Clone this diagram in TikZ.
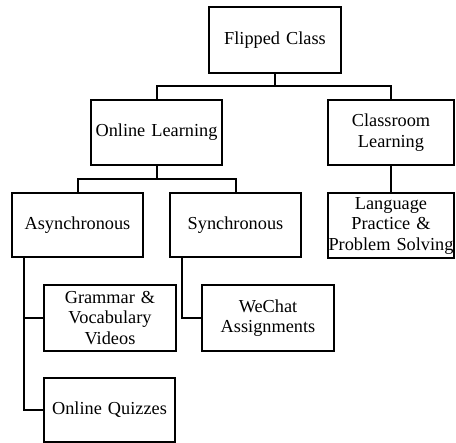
\documentclass[tikz,border=0pt]{standalone}
\usepackage{fontspec}
\setmainfont{Liberation Serif}
\newcommand{\boxfont}{\fontsize{18.3}{20.5}\selectfont\spaceskip=0.33em plus 0.1em\relax}
\begin{document}
\begin{tikzpicture}[x=1pt,y=1pt,
  box/.style={draw,line width=2pt,inner sep=0pt,align=center,font=\boxfont},
  txt/.style={inner sep=0pt,align=center,font=\boxfont},
  conn/.style={line width=2pt}]
\useasboundingbox (0,0) rectangle (456,443);
\node[box,minimum width=132pt,minimum height=66pt] (fc) at (275,403) {Flipped Class};
\node[box,minimum width=131pt,minimum height=65pt] (ol) at (156.5,310.5) {Online Learning};
\node[box,minimum width=126pt,minimum height=65pt] (cl) at (391,310.5) {Classroom\\Learning};
\node[box,minimum width=131pt,minimum height=64pt] (as) at (77.5,218) {Asynchronous};
\node[box,minimum width=131pt,minimum height=64pt] (sy) at (235.5,218) {Synchronous};
\node[box,minimum width=126pt,minimum height=65pt] (lp) at (391,217.5) {};
\node[txt] (lpt) at (lp.center) {Language\\Practice \&\\Problem Solving};
\node[box,minimum width=132pt,minimum height=66pt] (gv) at (110,125) {Grammar \&\\Vocabulary\\Videos};
\node[box,minimum width=132pt,minimum height=66pt] (wc) at (268,125) {WeChat\\Assignments};
\node[box,minimum width=131pt,minimum height=64pt] (oq) at (109.5,33) {Online Quizzes};
\coordinate (j1) at (275,357);
\coordinate (j2) at (156.5,264);
\draw[conn] (fc.south) -- (j1);
\draw[conn] (ol.north) |- (j1) -| (cl.north);
\draw[conn] (ol.south) -- (j2);
\draw[conn] (as.north) |- (j2) -| (sy.north);
\draw[conn] (cl.south) -- (lp.north);
\draw[conn] ([xshift=13pt]as.south west) |- (gv.west);
\draw[conn] ([xshift=13pt]as.south west) |- (oq.west);
\draw[conn] ([xshift=13pt]sy.south west) |- (wc.west);
\end{tikzpicture}
\end{document}
